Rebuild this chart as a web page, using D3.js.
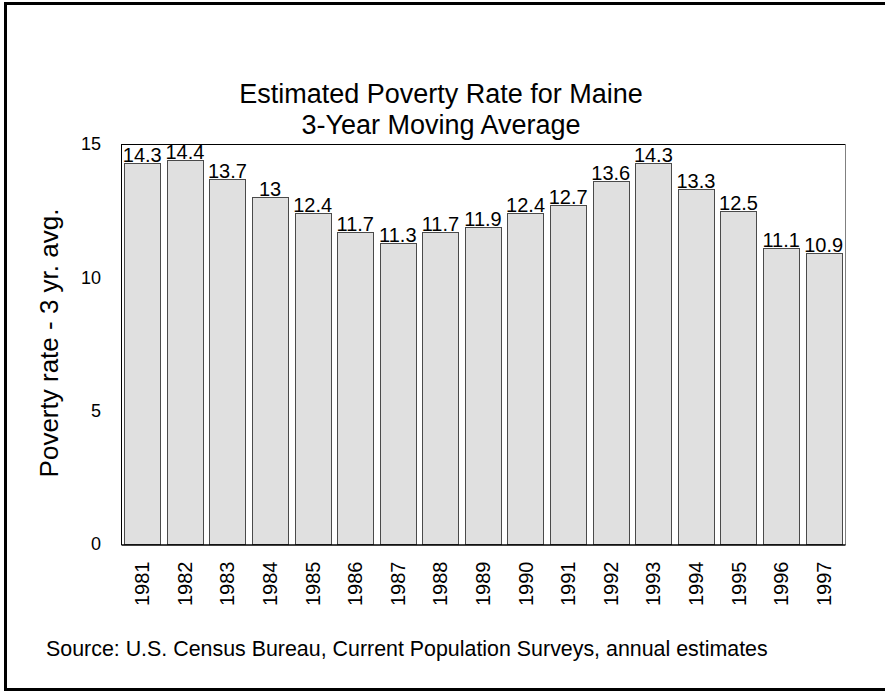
<!DOCTYPE html>
<html>
<head>
<meta charset="utf-8">
<title>Estimated Poverty Rate for Maine</title>
<script src="https://cdn.jsdelivr.net/npm/d3@7"></script>
<style>
  html, body { margin: 0; background: #fff; overflow: hidden; width: 885px; height: 692px; }
  svg { display: block; }
  text { font-family: Arial, "Liberation Sans", sans-serif; fill: #000; }
</style>
</head>
<body>
<script>
// data
var years = ["1981","1982","1983","1984","1985","1986","1987","1988","1989","1990","1991","1992","1993","1994","1995","1996","1997"];
var rates = [14.3, 14.4, 13.7, 13, 12.4, 11.7, 11.3, 11.7, 11.9, 12.4, 12.7, 13.6, 14.3, 13.3, 12.5, 11.1, 10.9];
var yTicks = [0, 5, 10, 15];

var W = 885, H = 692;
var plot = {left: 121, top: 144, right: 845, bottom: 544};

var svg = d3.select("body").append("svg")
  .attr("width", W)
  .attr("height", H);

// white page
svg.append("rect")
  .attr("width", W).attr("height", H)
  .attr("fill", "#fff");

// outer frame: left, top and bottom only (right side runs off the picture)
svg.append("path")
  .attr("d", "M" + (W + 10) + ",3.5 H5.5 V689.5 H" + (W + 10))
  .attr("fill", "none")
  .attr("stroke", "#000")
  .attr("stroke-width", 3);

// scales
var x = d3.scaleBand()
  .domain(years)
  .range([plot.left, plot.right])
  .paddingInner(0.15)
  .paddingOuter(0.075);

var y = d3.scaleLinear()
  .domain([0, 15])
  .range([plot.bottom, plot.top]);

// title
var title = svg.append("text")
  .attr("text-anchor", "middle")
  .style("font-size", "27px");
title.append("tspan").attr("x", 441).attr("y", 103).text("Estimated Poverty Rate for Maine");
title.append("tspan").attr("x", 441).attr("y", 134).text("3-Year Moving Average");

// bars
var data = years.map(function(d, i) { return {year: d, rate: rates[i]}; });

svg.selectAll(".bar")
  .data(data)
  .enter().append("rect")
  .attr("class", "bar")
  .attr("x", function(d) { return Math.round(x(d.year)) + 0.5; })
  .attr("y", function(d) { return Math.round(y(d.rate)) + 0.5; })
  .attr("width", Math.round(x.bandwidth()))
  .attr("height", function(d) { return Math.round(y(0)) - Math.round(y(d.rate)); })
  .attr("fill", "#e0e0e0")
  .attr("stroke", "#4a4a4a")
  .attr("stroke-width", 1);

// value labels
svg.selectAll(".val")
  .data(data)
  .enter().append("text")
  .attr("class", "val")
  .attr("x", function(d) { return x(d.year) + x.bandwidth() / 2; })
  .attr("y", function(d) { return y(d.rate) - 1; })
  .attr("text-anchor", "middle")
  .style("font-size", "20px")
  .text(function(d) { return d.rate; });

// plot frame
svg.append("line")
  .attr("x1", plot.left + 0.5).attr("x2", plot.right + 0.5)
  .attr("y1", plot.top + 0.5).attr("y2", plot.top + 0.5)
  .attr("stroke", "#000");
svg.append("line")
  .attr("x1", plot.left + 0.5).attr("x2", plot.left + 0.5)
  .attr("y1", plot.top).attr("y2", plot.bottom + 1)
  .attr("stroke", "#000");
svg.append("line")
  .attr("x1", plot.right + 0.5).attr("x2", plot.right + 0.5)
  .attr("y1", plot.top).attr("y2", plot.bottom + 1)
  .attr("stroke", "#808080");

// y axis (labels only, no ticks)
var yAxis = svg.append("g")
  .attr("transform", "translate(101,0)")
  .call(d3.axisLeft(y).tickValues(yTicks).tickSize(0).tickPadding(0));
yAxis.select(".domain").remove();
yAxis.selectAll("text")
  .style("font-size", "18px")
  .style("font-family", "Arial, 'Liberation Sans', sans-serif");

// x axis
var xAxis = svg.append("g")
  .attr("transform", "translate(0," + (plot.bottom + 0.5) + ")")
  .call(d3.axisBottom(x).tickSize(0).tickPadding(0));
xAxis.select(".domain")
  .attr("stroke", "#000")
  .attr("stroke-width", 1.5);
xAxis.selectAll("text")
  .style("font-size", "20px")
  .style("font-family", "Arial, 'Liberation Sans', sans-serif")
  .attr("text-anchor", "end")
  .attr("dy", "0.35em")
  .attr("transform", "translate(0,17) rotate(-90)");

// y axis title
svg.append("text")
  .attr("transform", "translate(58,343) rotate(-90)")
  .attr("text-anchor", "middle")
  .style("font-size", "26px")
  .text("Poverty rate - 3 yr. avg.");

// source note
svg.append("text")
  .attr("x", 46)
  .attr("y", 656)
  .style("font-size", "21.4px")
  .text("Source: U.S. Census Bureau, Current Population Surveys, annual estimates");
</script>
</body>
</html>
